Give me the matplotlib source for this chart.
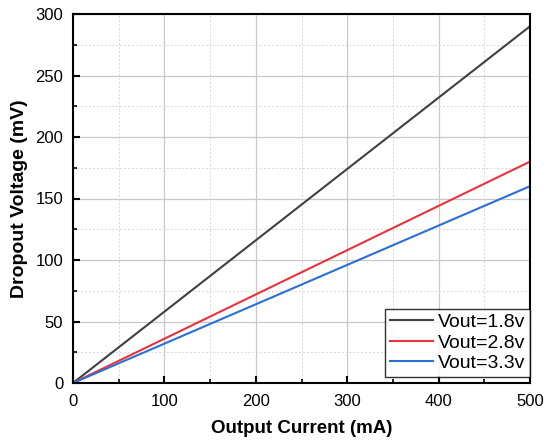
import matplotlib
matplotlib.use("Agg")
import matplotlib.pyplot as plt
from matplotlib.ticker import MultipleLocator

plt.rcParams['font.family'] = ['Liberation Sans', 'DejaVu Sans']

current_ma = [0, 500]
vout_18 = [0, 290]
vout_28 = [0, 180]
vout_33 = [0, 160]
labels = ['Vout=1.8v', 'Vout=2.8v', 'Vout=3.3v']
colors = ['#404040', '#e8333a', '#2a6fd6']

fig = plt.figure(figsize=(5.5, 4.41), dpi=100)
ax = fig.add_axes([73/550, 1 - 383/441, (530-73)/550, (383-14)/441])

for y, lab, c in zip([vout_18, vout_28, vout_33], labels, colors):
    ax.plot(current_ma, y, color=c, lw=1.5, label=lab)

ax.set_xlim(0, 500)
ax.set_ylim(0, 300)
ax.xaxis.set_major_locator(MultipleLocator(100))
ax.xaxis.set_minor_locator(MultipleLocator(50))
ax.yaxis.set_major_locator(MultipleLocator(50))
ax.yaxis.set_minor_locator(MultipleLocator(25))
ax.grid(which='major', color='#c8c8c8', lw=0.9, ls='-')
ax.grid(which='minor', color='#d8d8d8', lw=0.7, ls=(0, (2, 2)))
ax.set_axisbelow(True)

ax.tick_params(which='both', direction='in', top=False, right=False, labelsize=12)
ax.tick_params(axis='y', which='major', pad=7)
ax.tick_params(axis='x', which='major', pad=8)
ax.tick_params(which='major', length=5, width=1.5)
ax.tick_params(which='minor', length=3, width=1.2)
for s in ax.spines.values():
    s.set_linewidth(1.5)

ax.set_xlabel('Output Current (mA)', fontsize=13.5, fontweight='bold', labelpad=8)
ax.set_ylabel('Dropout Voltage (mV)', fontsize=14, fontweight='bold', labelpad=5)

leg = ax.legend(loc='lower right', bbox_to_anchor=(1.0, 6/369), fontsize=14,
                frameon=True, fancybox=False, edgecolor='black', borderpad=0.25,
                handlelength=2.2, labelspacing=0.15, handletextpad=0.25,
                borderaxespad=0.0)
leg.get_frame().set_linewidth(1.0)

fig.savefig('out.png', dpi=100)
